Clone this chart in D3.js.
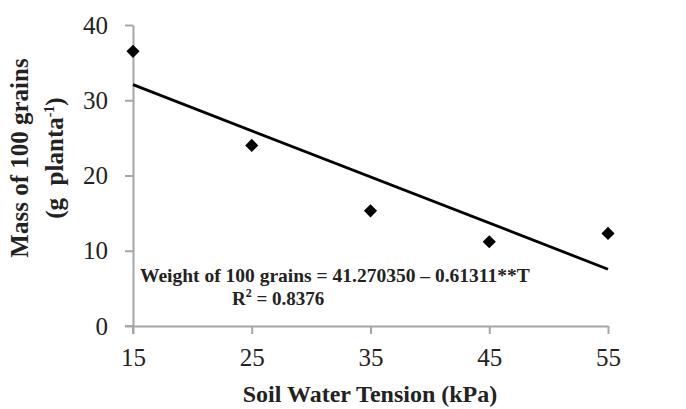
<!DOCTYPE html>
<html>
<head>
<meta charset="utf-8">
<script src="https://cdn.jsdelivr.net/npm/d3@7"></script>
<style>
  html, body { margin: 0; padding: 0; background: #fff; }
  svg { display: block; font-family: "Liberation Serif", "Times New Roman", serif; }
</style>
</head>
<body>
<svg id="chart" width="686" height="409"></svg>
<script>
// Soil water tension (kPa) and mass of 100 grains (g)
const tension = [15, 25, 35, 45, 55];
const mass = [36.5, 24.0, 15.3, 11.2, 12.3];
const xTicks = [15, 25, 35, 45, 55];
const yTicks = [0, 10, 20, 30, 40];
// Fitted regression: W = a - b*T
const intercept = 41.270350;
const slope = -0.61311;

const svg = d3.select("#chart");
const margin = { left: 133, right: 78, top: 25, bottom: 83 };
const W = 686, H = 409;

const x = d3.scaleLinear().domain([15, 55]).range([margin.left, W - margin.right]);
const y = d3.scaleLinear().domain([0, 40]).range([H - margin.bottom, margin.top]);

const axisColor = "#a6a6a6";
const textColor = "#222";

// Y axis
const yAxis = svg.append("g")
  .attr("transform", `translate(${margin.left},0)`)
  .call(d3.axisLeft(y).tickValues(yTicks).tickSize(8).tickSizeOuter(0).tickPadding(17));
// X axis
const xAxis = svg.append("g")
  .attr("transform", `translate(0,${y(0)})`)
  .call(d3.axisBottom(x).tickValues(xTicks).tickSize(8).tickSizeOuter(0).tickPadding(14));

[yAxis, xAxis].forEach(g => {
  g.select(".domain").attr("stroke", axisColor).attr("stroke-width", 2);
  g.selectAll(".tick line").attr("stroke", axisColor).attr("stroke-width", 2);
  g.selectAll(".tick text")
    .attr("fill", textColor)
    .style("font-family", "'Liberation Serif', 'Times New Roman', serif")
    .style("font-size", "25px");
});
// extend the axes slightly past their crossing point
svg.append("line")
  .attr("x1", x(15) - 8).attr("x2", x(15))
  .attr("y1", y(0)).attr("y2", y(0))
  .attr("stroke", axisColor).attr("stroke-width", 2);
svg.append("line")
  .attr("x1", x(15)).attr("x2", x(15))
  .attr("y1", y(0)).attr("y2", y(0) + 8)
  .attr("stroke", axisColor).attr("stroke-width", 2);

// Regression line
const fit = t => intercept + slope * t;
svg.append("line")
  .attr("x1", x(15)).attr("y1", y(fit(15)))
  .attr("x2", x(55)).attr("y2", y(fit(55)))
  .attr("stroke", "#000").attr("stroke-width", 2.8);

// Observed points (diamonds)
svg.append("g").selectAll("path")
  .data(tension.map((t, i) => [t, mass[i]]))
  .join("path")
  .attr("transform", d => `translate(${x(d[0])},${y(d[1])})`)
  .attr("d", d3.symbol().type(d3.symbolDiamond2).size(110))
  .attr("fill", "#000");

// Axis titles
svg.append("text")
  .attr("x", 370).attr("y", 402)
  .attr("text-anchor", "middle")
  .attr("font-weight", "bold").attr("font-size", 24)
  .attr("fill", textColor)
  .text("Soil Water Tension (kPa)");

const yTitle = svg.append("g").attr("transform", "translate(28,158) rotate(-90)");
yTitle.append("text")
  .attr("text-anchor", "middle")
  .attr("font-weight", "bold").attr("font-size", 25)
  .attr("fill", textColor)
  .text("Mass of 100 grains");
const yt2 = yTitle.append("text")
  .attr("y", 35)
  .attr("text-anchor", "middle")
  .attr("font-weight", "bold").attr("font-size", 25)
  .attr("fill", textColor);
yt2.append("tspan").text("(g\u00a0 planta");
yt2.append("tspan").attr("dy", -9).attr("font-size", 14).text("-1");
yt2.append("tspan").attr("dy", 9).text(")");

// Regression equation
svg.append("text")
  .attr("x", 140).attr("y", 282)
  .attr("font-weight", "bold").attr("font-size", 19.5)
  .attr("fill", textColor)
  .text("Weight of 100 grains = 41.270350 \u2013 0.61311**T");
const r2 = svg.append("text")
  .attr("x", 232).attr("y", 305)
  .attr("font-weight", "bold").attr("font-size", 19)
  .attr("fill", textColor);
r2.append("tspan").text("R");
r2.append("tspan").attr("dy", -8).attr("font-size", 12).text("2");
r2.append("tspan").attr("dy", 8).text(" = 0.8376");
</script>
</body>
</html>
